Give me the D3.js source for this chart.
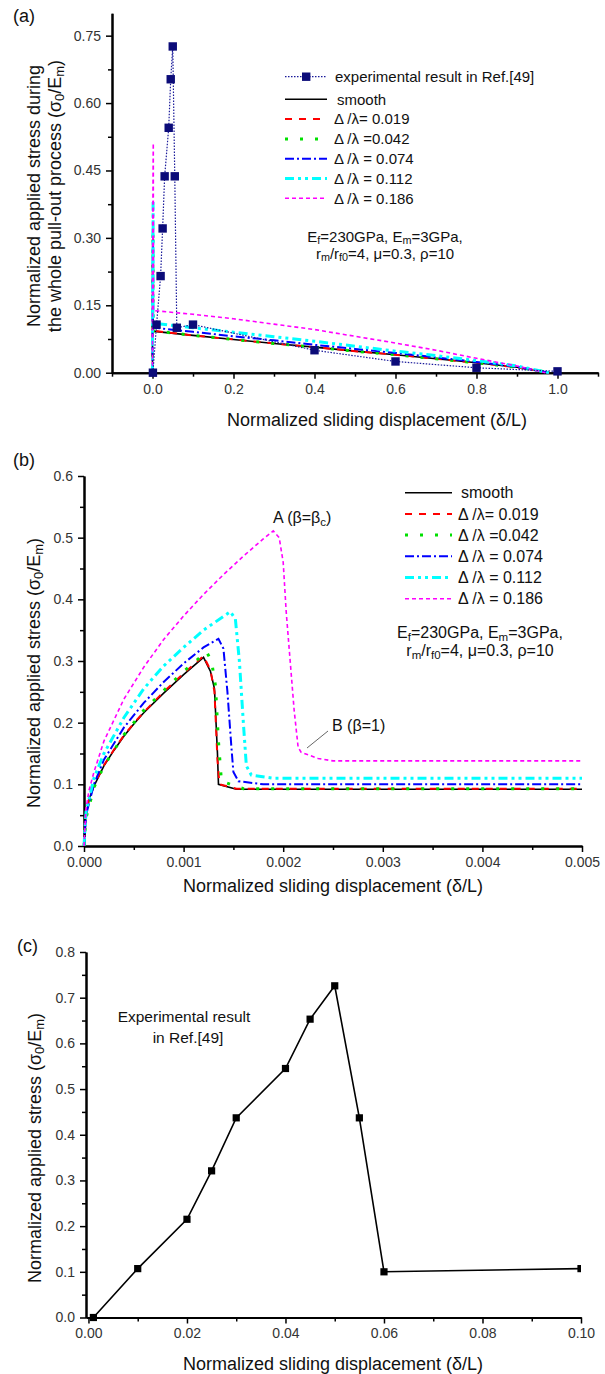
<!DOCTYPE html>
<html>
<head>
<meta charset="utf-8">
<script src="https://cdn.jsdelivr.net/npm/d3@7"></script>
<style>
  body { margin: 0; background: #fff; }
  svg { display: block; font-family: "Liberation Sans", Arial, sans-serif; }
</style>
</head>
<body>
<svg id="chart" width="605" height="1374"></svg>
<script>
// ---- data ----
// early part of the pull-out curves (panel b), [δ/L, σ0/Em]
const smoothPts = [[0,0],[0.00002,0.05],[0.00005,0.075],[0.0001,0.097],[0.0002,0.13],[0.0003,0.155],[0.0004,0.178],[0.0005,0.198],[0.0006,0.216],[0.0008,0.248],[0.001,0.278],[0.0012,0.306],[0.00127,0.283],[0.00131,0.255],[0.00134,0.15],[0.00135,0.1],[0.00153,0.092],[0.005,0.092]];
const red019Pts = [[0,0],[0.00002,0.05],[0.00005,0.076],[0.0001,0.098],[0.0002,0.131],[0.0003,0.156],[0.0004,0.179],[0.0005,0.199],[0.0006,0.217],[0.0008,0.25],[0.001,0.28],[0.0012,0.308],[0.00127,0.285],[0.00131,0.25],[0.00134,0.14],[0.00136,0.1],[0.00153,0.093],[0.005,0.093]];
const green042Pts = [[0,0],[0.00002,0.045],[0.0001,0.095],[0.0002,0.13],[0.0004,0.18],[0.0006,0.22],[0.0008,0.252],[0.001,0.283],[0.00123,0.315],[0.00128,0.3],[0.00132,0.26],[0.00135,0.17],[0.00138,0.105],[0.0016,0.093],[0.005,0.093]];
const blue074Pts = [[0,0],[0.00002,0.05],[0.0001,0.1],[0.0002,0.14],[0.0004,0.192],[0.0006,0.232],[0.0008,0.266],[0.001,0.296],[0.0012,0.322],[0.00135,0.336],[0.0014,0.32],[0.00144,0.25],[0.00148,0.16],[0.0015,0.12],[0.00155,0.105],[0.0018,0.1],[0.005,0.1]];
const cyan112Pts = [[0,0],[0.00002,0.055],[0.0001,0.11],[0.0002,0.15],[0.0004,0.208],[0.0006,0.255],[0.0008,0.292],[0.001,0.322],[0.0012,0.35],[0.00147,0.38],[0.00152,0.368],[0.00156,0.3],[0.0016,0.2],[0.00163,0.13],[0.00168,0.115],[0.0019,0.11],[0.005,0.11]];
const mag186Pts = [[0,0],[0.00002,0.06],[0.00005,0.09],[0.0001,0.12],[0.0002,0.17],[0.0004,0.238],[0.0006,0.29],[0.0008,0.335],[0.001,0.373],[0.0012,0.408],[0.0014,0.44],[0.0016,0.47],[0.0018,0.498],[0.0019,0.511],[0.00196,0.5],[0.002,0.46],[0.00203,0.38],[0.00207,0.3],[0.00211,0.22],[0.00215,0.16],[0.00218,0.152],[0.00235,0.142],[0.0025,0.138],[0.005,0.138]];

// long sliding tails (panel a)
const smoothTail = [[0.1,0.083],[0.2,0.074],[0.3,0.065],[0.4,0.057],[0.5,0.048],[0.6,0.04],[0.7,0.031],[0.8,0.022],[0.9,0.012],[0.98,0]];
const blueTail = [[0.1,0.091],[0.2,0.081],[0.3,0.072],[0.4,0.062],[0.5,0.053],[0.6,0.044],[0.7,0.034],[0.8,0.024],[0.9,0.013],[0.98,0]];
const cyanTail = [[0.1,0.1],[0.2,0.09],[0.3,0.08],[0.4,0.07],[0.5,0.059],[0.6,0.048],[0.7,0.038],[0.8,0.027],[0.9,0.015],[0.98,0]];
const magTail = [[0.1,0.13],[0.2,0.12],[0.3,0.108],[0.4,0.096],[0.5,0.081],[0.6,0.066],[0.7,0.05],[0.8,0.032],[0.9,0.015],[0.97,0]];

// experimental result in Ref.[49]
const expX = [0.001, 0.01, 0.02, 0.025, 0.03, 0.04, 0.045, 0.05, 0.055, 0.06, 0.1];
const expY = [0, 0.107, 0.215, 0.321, 0.437, 0.545, 0.653, 0.726, 0.437, 0.1, 0.107];
const expXFar = [0.4, 0.6, 0.8, 1.0];
const expYFar = [0.05, 0.025, 0.011, 0.003];

const seriesLabels = ["smooth", "\u0394 /\u03bb= 0.019", "\u0394 /\u03bb =0.042", "\u0394 /\u03bb = 0.074", "\u0394 /\u03bb = 0.112", "\u0394 /\u03bb = 0.186"];
const seriesColors = ["#000000", "#ff0000", "#00e000", "#0000ff", "#00ffff", "#ff00ff"];
const seriesDash = [null, "7,7", "3,12", "9,3,2,3", "9,4,3,4,3,4", "4,3"];
const seriesWidth = [1.6, 2, 3, 2, 3, 1.6];
const seriesB = [smoothPts, red019Pts, green042Pts, blue074Pts, cyan112Pts, mag186Pts];
const seriesTails = [smoothTail, smoothTail, smoothTail, blueTail, cyanTail, magTail];

// ticks
const xMajorA = [0, 0.2, 0.4, 0.6, 0.8, 1.0], xMinorA = [-0.1, 0.1, 0.3, 0.5, 0.7, 0.9, 1.1];
const yMajorA = [0, 0.15, 0.3, 0.45, 0.6, 0.75], yMinorA = [0.075, 0.225, 0.375, 0.525, 0.675];
const xMajorB = [0, 0.001, 0.002, 0.003, 0.004, 0.005], xMinorB = [0.0005, 0.0015, 0.0025, 0.0035, 0.0045];
const yMajorB = [0, 0.1, 0.2, 0.3, 0.4, 0.5, 0.6], yMinorB = [0.05, 0.15, 0.25, 0.35, 0.45, 0.55];
const xMajorC = [0, 0.02, 0.04, 0.06, 0.08, 0.1], xMinorC = [0.01, 0.03, 0.05, 0.07, 0.09];
const yMajorC = [0, 0.1, 0.2, 0.3, 0.4, 0.5, 0.6, 0.7, 0.8], yMinorC = [0.05, 0.15, 0.25, 0.35, 0.45, 0.55, 0.65, 0.75];

const svg = d3.select("#chart");

// writes text made of [string, isSub] parts
function rich(text, parts, size) {
    parts.forEach(function(p) {
        const t = text.append("tspan").text(p[0]);
        if (p[1]) t.attr("font-size", size * 0.72).attr("baseline-shift", "-22%");
        else t.attr("font-size", size);
    });
}

function axes(x, y, o) {
    const g = svg.append("g");
    const y0 = y.range()[0], x0 = x.range()[0];
    g.append("g").attr("transform", `translate(0,${y0})`)
        .call(d3.axisBottom(x).tickValues(o.xMajor).tickFormat(d3.format(o.xFmt)).tickSize(6).tickSizeOuter(0).tickPadding(5));
    g.append("g").attr("transform", `translate(0,${y0})`)
        .call(d3.axisBottom(x).tickValues(o.xMinor).tickFormat("").tickSize(4).tickSizeOuter(0));
    g.append("g").attr("transform", `translate(${x0},0)`)
        .call(d3.axisLeft(y).tickValues(o.yMajor).tickFormat(d3.format(o.yFmt)).tickSize(6).tickSizeOuter(0).tickPadding(5));
    g.append("g").attr("transform", `translate(${x0},0)`)
        .call(d3.axisLeft(y).tickValues(o.yMinor).tickFormat("").tickSize(4).tickSizeOuter(0));
    g.selectAll(".domain").attr("stroke", "#000").attr("stroke-width", 2);
    g.selectAll(".tick line").attr("stroke", "#000").attr("stroke-width", 1.5);
    g.selectAll(".tick text").attr("font-size", 14).attr("fill", "#333")
        .attr("font-family", "'Liberation Sans', Arial, sans-serif");
}

function label(x, y, str, size, anchor) {
    return svg.append("text").attr("x", x).attr("y", y).attr("font-size", size)
        .attr("text-anchor", anchor || "start").attr("fill", "#111").text(str);
}

const line = (x, y) => d3.line().x(d => x(d[0])).y(d => y(d[1]));

// ================= panel (a) =================
const xA = d3.scaleLinear().domain([-0.1, 1.1]).range([112, 598]);
const yA = d3.scaleLinear().domain([0, 0.8]).range([372.7, 13.2]);
axes(xA, yA, {xMajor: xMajorA, xMinor: xMinorA, xFmt: ".1f", yMajor: yMajorA, yMinor: yMinorA, yFmt: ".2f"});

seriesB.forEach(function(pts, i) {
    svg.append("path").datum(pts.concat(seriesTails[i]))
        .attr("d", line(xA, yA)).attr("fill", "none")
        .attr("stroke", seriesColors[i]).attr("stroke-width", seriesWidth[i])
        .attr("stroke-dasharray", seriesDash[i]);
});

const expA = expX.map((v, i) => [v, expY[i]]).concat(expXFar.map((v, i) => [v, expYFar[i]]));
svg.append("path").datum(expA).attr("d", line(xA, yA)).attr("fill", "none")
    .attr("stroke", "#1a1a9a").attr("stroke-width", 1.2).attr("stroke-dasharray", "1.5,1.5");
svg.append("g").selectAll("rect").data(expA).join("rect")
    .attr("x", d => xA(d[0]) - 4.2).attr("y", d => yA(d[1]) - 4.2)
    .attr("width", 8.4).attr("height", 8.4).attr("fill", "#0b0b78");

label(13, 22, "(a)", 18);
label(377, 426, "Normalized sliding displacement (\u03b4/L)", 18, "middle");
label(0, 0, "Normalized applied stress during", 18, "middle").attr("transform", "translate(40,196) rotate(-90)");
rich(label(0, 0, null, 18, "middle").attr("transform", "translate(61,196) rotate(-90)"),
    [["the whole pull-out process (\u03c3", 0], ["0", 1], ["/E", 0], ["m", 1], [")", 0]], 18);

// legend (a)
const legA = svg.append("g");
legA.append("line").attr("x1", 285).attr("x2", 327).attr("y1", 76.7).attr("y2", 76.7)
    .attr("stroke", "#1a1a9a").attr("stroke-width", 1.2).attr("stroke-dasharray", "1.5,1.5");
legA.append("rect").attr("x", 302).attr("y", 72.5).attr("width", 8.4).attr("height", 8.4).attr("fill", "#0b0b78");
label(335, 82, "experimental result in Ref.[49]", 15);
seriesLabels.forEach(function(s, i) {
    const yy = 99.3 + i * 19.8;
    legA.append("line").attr("x1", 285).attr("x2", 327).attr("y1", yy).attr("y2", yy)
        .attr("stroke", seriesColors[i]).attr("stroke-width", seriesWidth[i])
        .attr("stroke-dasharray", seriesDash[i]);
    label(i === 0 ? 337 : 334, yy + 5.2, s, 15);
});
rich(label(385, 242, null, 15, "middle"), [["E", 0], ["f", 1], ["=230GPa, E", 0], ["m", 1], ["=3GPa,", 0]], 15);
rich(label(385, 259, null, 15, "middle"), [["r", 0], ["m", 1], ["/r", 0], ["f0", 1], ["=4, \u03bc=0.3, \u03c1=10", 0]], 15);

// ================= panel (b) =================
const xB = d3.scaleLinear().domain([0, 0.005]).range([84, 582]);
const yB = d3.scaleLinear().domain([0, 0.6]).range([846, 476]);
axes(xB, yB, {xMajor: xMajorB, xMinor: xMinorB, xFmt: ".3f", yMajor: yMajorB, yMinor: yMinorB, yFmt: ".1f"});

seriesB.forEach(function(pts, i) {
    svg.append("path").datum(pts).attr("d", line(xB, yB)).attr("fill", "none")
        .attr("stroke", seriesColors[i]).attr("stroke-width", seriesWidth[i])
        .attr("stroke-dasharray", seriesDash[i]);
});

label(13, 466, "(b)", 18);
label(333, 892, "Normalized sliding displacement (\u03b4/L)", 18, "middle");
rich(label(0, 0, null, 18, "middle").attr("transform", "translate(40,673) rotate(-90)"),
    [["Normalized applied stress (\u03c3", 0], ["0", 1], ["/E", 0], ["m", 1], [")", 0]], 18);

rich(label(273, 522.5, null, 16), [["A (\u03b2=\u03b2", 0], ["c", 1], [")", 0]], 16);
label(332, 731, "B (\u03b2=1)", 16);
svg.append("line").attr("x1", 307).attr("y1", 748).attr("x2", 328).attr("y2", 731)
    .attr("stroke", "#666").attr("stroke-width", 1);

seriesLabels.forEach(function(s, i) {
    const yy = 492.7 + i * 21.2;
    svg.append("line").attr("x1", 405).attr("x2", 452).attr("y1", yy).attr("y2", yy)
        .attr("stroke", seriesColors[i]).attr("stroke-width", seriesWidth[i])
        .attr("stroke-dasharray", seriesDash[i]);
    label(i === 0 ? 461 : 458, yy + 5.6, s, 16);
});
rich(label(480, 637.5, null, 16, "middle"), [["E", 0], ["f", 1], ["=230GPa, E", 0], ["m", 1], ["=3GPa,", 0]], 16);
rich(label(480, 656, null, 16, "middle"), [["r", 0], ["m", 1], ["/r", 0], ["f0", 1], ["=4, \u03bc=0.3, \u03c1=10", 0]], 16);

// ================= panel (c) =================
const xC = d3.scaleLinear().domain([-0.0005, 0.1]).range([86, 581]);
const yC = d3.scaleLinear().domain([0, 0.8]).range([1317.5, 952]);
axes(xC, yC, {xMajor: xMajorC, xMinor: xMinorC, xFmt: ".2f", yMajor: yMajorC, yMinor: yMinorC, yFmt: ".1f"});

const expC = expX.map((v, i) => [v, expY[i]]);
svg.append("path").datum(expC).attr("d", line(xC, yC)).attr("fill", "none")
    .attr("stroke", "#000").attr("stroke-width", 1.6);
svg.append("g").selectAll("rect").data(expC).join("rect")
    .attr("x", d => xC(d[0]) - 3.6).attr("y", d => yC(d[1]) - 3.6)
    .attr("width", d => d[0] === 0.1 ? 3.6 : 7.2).attr("height", 7.2).attr("fill", "#000");

label(17, 952, "(c)", 18);
label(333, 1370, "Normalized sliding displacement (\u03b4/L)", 18, "middle");
rich(label(0, 0, null, 18, "middle").attr("transform", "translate(41,1148) rotate(-90)"),
    [["Normalized applied stress (\u03c3", 0], ["0", 1], ["/E", 0], ["m", 1], [")", 0]], 18);
label(184, 1022, "Experimental result", 15.5, "middle");
label(188, 1043, "in  Ref.[49]", 15.5, "middle");
</script>
</body>
</html>
